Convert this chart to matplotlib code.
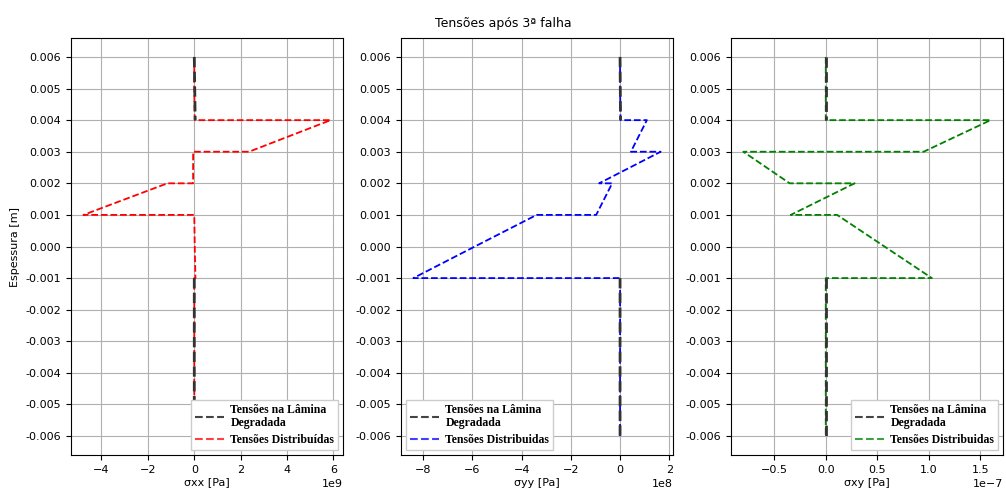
import numpy as np
import matplotlib
matplotlib.use("Agg")
import matplotlib.pyplot as plt

# layer boundaries (top -> bottom), each layer gives a top and bottom point
z_top = [0.006, 0.005, 0.004, 0.003, 0.002, 0.001, 0.0, -0.001, -0.002, -0.003, -0.004, -0.005]
z_bot = [0.005, 0.004, 0.003, 0.002, 0.001, 0.0, -0.001, -0.002, -0.003, -0.004, -0.005, -0.006]

# distributed stresses, (top, bottom) per layer
sxx_top = [0, 0, 5.88e9, -0.05e9, -1.16e9, 0, 0.02e9, 0, 0, 0, 0, 0]
sxx_bot = [0, 0.02e9, 2.36e9, -0.05e9, -4.78e9, 0.02e9, 0.05e9, 0, 0, 0, 0, 0]
syy_top = [0, 0, 1.09e8, 1.65e8, -0.32e8, -3.39e8, -5.9e8, 0, 0, 0, 0, 0]
syy_bot = [0, 0.02e8, 0.44e8, -0.85e8, -0.97e8, -5.9e8, -8.4e8, 0, 0, 0, 0, 0]
sxy_top = [0, 0, 1.60e-7, -0.80e-7, 0.28e-7, 0.11e-7, 0.57e-7, 0, 0, 0, 0, 0]
sxy_bot = [0, 0, 0.95e-7, -0.35e-7, -0.34e-7, 0.57e-7, 1.03e-7, 0, 0, 0, 0, 0]

# degraded laminae (upper block and lower block, split by NaN)
z_deg = [0.006, 0.004, np.nan, -0.001, -0.006]
sxx_deg = [0, 0.04e9, np.nan, 0, 0]
syy_deg = [0, 0.02e8, np.nan, 0, 0]
sxy_deg = [0, 0, np.nan, 0, 0]

yticks = [0.006, 0.005, 0.004, 0.003, 0.002, 0.001, 0.0,
          -0.001, -0.002, -0.003, -0.004, -0.005, -0.006]


def interleave(top, bot):
    out = []
    for a, b in zip(top, bot):
        out += [a, b]
    return out


z_pts = interleave(z_top, z_bot)

panels = [
    (interleave(sxx_top, sxx_bot), sxx_deg, 'red', 'σxx [Pa]', 'lower right', 'Tensões Distribuídas'),
    (interleave(syy_top, syy_bot), syy_deg, 'blue', 'σyy [Pa]', 'lower left', 'Tensões Distribuidas'),
    (interleave(sxy_top, sxy_bot), sxy_deg, 'green', 'σxy [Pa]', 'lower right', 'Tensões Distribuidas'),
]

fig, axes = plt.subplots(1, 3, figsize=(10.06, 4.91), dpi=100)
fig.subplots_adjust(left=0.0706, right=0.997, top=0.9226, bottom=0.0733, wspace=0.213)

for ax, (vals, deg, color, xlabel, loc, dist_label) in zip(axes, panels):
    ax.plot(vals, z_pts, '--', color=color, lw=1.3)
    ax.plot(deg, z_deg, '--', color='#333333', lw=2.0)
    ax.set_yticks(yticks)
    ax.set_yticklabels([f'{v:.3f}' for v in yticks])
    ax.set_xlabel(xlabel, fontsize=8, labelpad=2)
    ax.tick_params(labelsize=8)
    ax.xaxis.get_offset_text().set_fontsize(8)
    ax.grid(True, color='#b0b0b0', lw=0.8)
    h1, = ax.plot([], [], '--', color='#444444', lw=1.5)
    h2, = ax.plot([], [], '--', color=color, lw=1.5, alpha=0.75)
    ax.legend([h1, h2], ['Tensões na Lâmina\nDegradada', dist_label], loc=loc,
              prop={'family': 'Liberation Serif', 'weight': 'bold', 'size': 8.5},
              handlelength=2.5, handletextpad=0.5, fancybox=False, framealpha=1,
              edgecolor='#cccccc', borderpad=0.35, labelspacing=0.4,
              borderaxespad=0.4)

axes[0].set_ylabel('Espessura [m]', fontsize=8)
fig.suptitle('Tensões após 3ª falha', fontsize=9, y=0.965)

fig.savefig('out.png', dpi=100)
